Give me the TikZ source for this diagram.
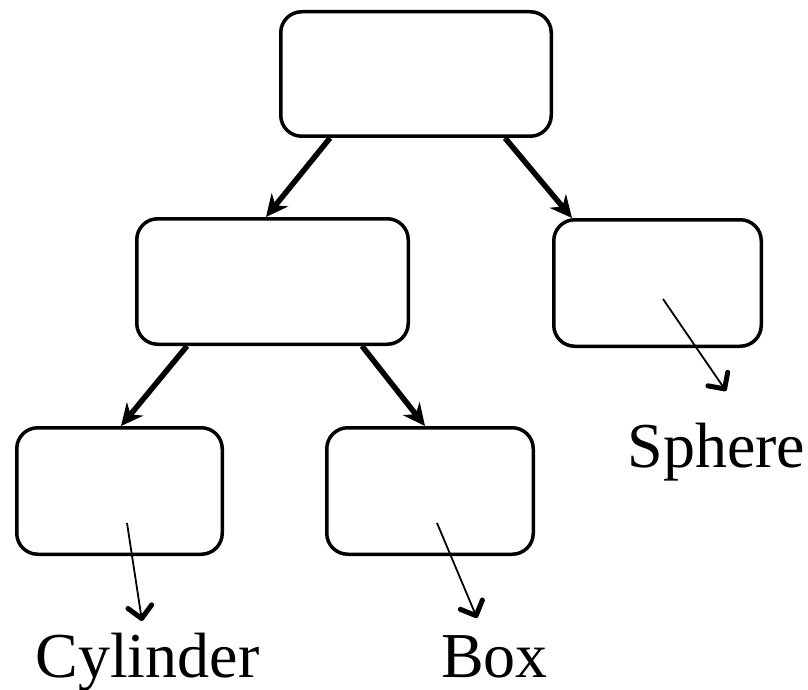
\documentclass[tikz,border=0pt]{standalone}
\usepackage{fontspec}
\setmainfont{Liberation Serif}
\usetikzlibrary{arrows.meta}
\begin{document}
\begin{tikzpicture}[x=1pt,y=-1pt,
  boxnode/.style={draw, line width=3.5pt, rounded corners=21pt, inner sep=0pt, fill=white},
  treearrow/.style={line width=5.5pt, -{Stealth[length=22pt,width=21pt,inset=7pt]}},
  thinarrow/.style={line width=1.8pt, -{Straight Barb[length=12pt,width=24pt,line width=5pt,round]}},
  lbl/.style={inner sep=0pt, anchor=base, font=\fontsize{64}{70}\selectfont}]
\useasboundingbox (0,0) rectangle (808,690);
\node[boxnode, minimum width=270.5pt, minimum height=124.5pt] (top) at (416,74) {};
\node[boxnode, minimum width=271.5pt, minimum height=125.5pt] (midL) at (272.5,281.5) {};
\node[boxnode, minimum width=207.5pt, minimum height=126.5pt] (midR) at (657.5,283) {};
\node[boxnode, minimum width=205.5pt, minimum height=126.5pt] (botL) at (119.5,491) {};
\node[boxnode, minimum width=206.5pt, minimum height=126.5pt] (botM) at (430,491) {};

\draw[treearrow] ([xshift=-86pt]top.south) -- ([xshift=-6.5pt]midL.north);
\draw[treearrow] ([xshift=89pt]top.south) -- ([xshift=-85.5pt]midR.north);
\draw[treearrow] ([xshift=-85.5pt]midL.south) -- ([xshift=1.5pt]botL.north);
\draw[treearrow] ([xshift=89.5pt]midL.south) -- ([xshift=-5pt]botM.north);

\node[lbl] (cyl) at (147.5,677) {Cylinder};
\node[lbl] (boxl) at (494.5,677) {Box};
\node[lbl] (sph) at (716.5,467) {Sphere};

\coordinate (cs) at (127,523);
\coordinate (ce) at (142,621);
\coordinate (bs) at (437,523);
\coordinate (be) at (477,618);
\coordinate (ss) at (663,299);
\coordinate (se) at (726,391);
\draw[thinarrow] (cs) -- (ce);
\draw[thinarrow] (bs) -- (be);
\draw[thinarrow] (ss) -- (se);
\end{tikzpicture}
\end{document}
